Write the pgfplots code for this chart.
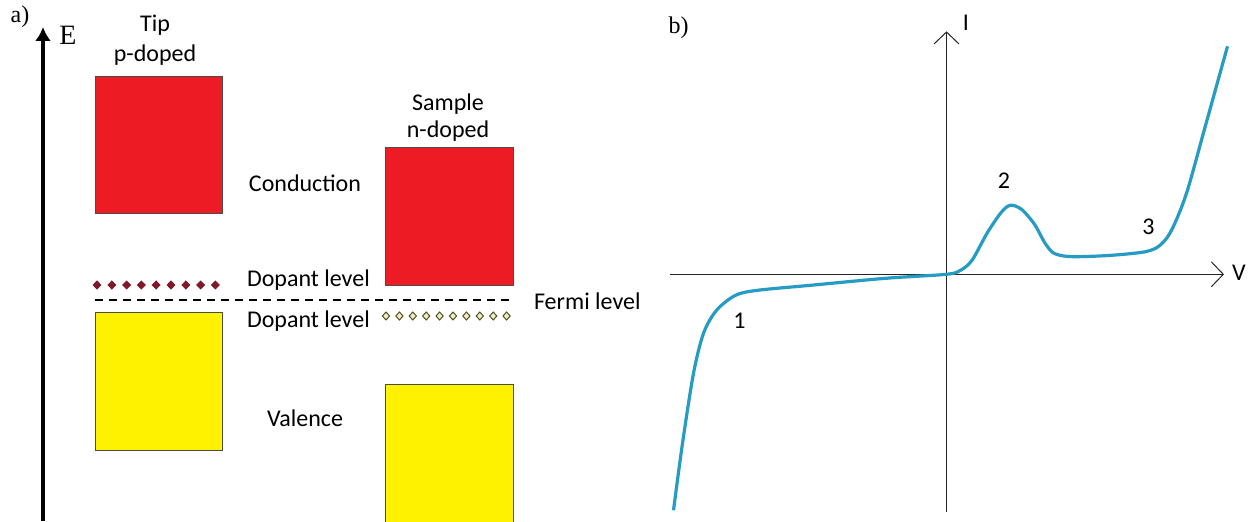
\documentclass[border=0pt]{standalone}
\usepackage{pgfplots}
\pgfplotsset{compat=1.18}
\usetikzlibrary{arrows.meta}
\usepackage{fontspec}
\setmainfont{Carlito}
\newfontfamily\serifE{Liberation Serif}
\definecolor{tipred}{RGB}{237,28,36}
\definecolor{bandyellow}{RGB}{255,242,0}
\definecolor{dopred}{RGB}{125,25,40}
\definecolor{dopedge}{RGB}{80,80,40}
\definecolor{dopfill}{RGB}{240,238,190}
\definecolor{curve}{RGB}{38,155,195}
\begin{document}
\begin{tikzpicture}
% ---------------- panel a) ----------------
\begin{axis}[
  at={(0pt,0pt)}, anchor=origin,
  x=0.5pt, y=0.5pt,
  xmin=0, xmax=650, ymin=0, ymax=521,
  hide axis, clip=false,
  every node/.style={inner sep=0pt},
]
% energy axis
\addplot[black, line width=2pt, -{Latex[length=7pt,width=8pt]}] coordinates {(43,0) (43,494)};
% bands
\addplot[fill=tipred, draw=black!70, line width=0.5pt] coordinates {(95,308) (222,308) (222,444) (95,444)} -- cycle;
\addplot[fill=bandyellow, draw=black!70, line width=0.5pt] coordinates {(95,71) (222,71) (222,209) (95,209)} -- cycle;
\addplot[fill=tipred, draw=black!70, line width=0.5pt] coordinates {(385,236) (513,236) (513,373) (385,373)} -- cycle;
\addplot[fill=bandyellow, draw=black!70, line width=0.5pt] coordinates {(385,-2) (513,-2) (513,137) (385,137)} -- cycle;
% Fermi level
\addplot[black, line width=0.6pt, dash pattern=on 4pt off 3pt] coordinates {(95,221) (513,221)};
% dopant levels
\addplot[only marks, mark=diamond*, mark size=2pt, dopred, mark options={fill=dopred, draw=dopred, xscale=1.3}]
  coordinates {(97,236) (111.8,236) (126.6,236) (141.4,236) (156.2,236) (171,236) (185.8,236) (200.6,236) (215.4,236)};
\addplot[only marks, mark=diamond*, mark size=2pt, mark options={fill=dopfill, draw=dopedge, line width=0.5pt, xscale=1.2}]
  coordinates {(386,205) (399.4,205) (412.8,205) (426.2,205) (439.6,205) (453,205) (466.4,205) (479.8,205) (493.2,205) (506.6,205)};
% texts
\node[font=\serifE\fontsize{12}{12}\selectfont] at (axis cs:20,504) {a)};
\node[font=\serifE\fontsize{14}{14}\selectfont] at (axis cs:68,486) {E};
\node[font=\fontsize{12}{12}\selectfont] at (axis cs:155,496) {Tip};
\node[font=\fontsize{12}{12}\selectfont] at (axis cs:155,466) {p-doped};
\node[font=\fontsize{12}{12}\selectfont] at (axis cs:448,417) {Sample};
\node[font=\fontsize{12}{12}\selectfont] at (axis cs:448,390) {n-doped};
\node[font=\fontsize{12}{12}\selectfont] at (axis cs:305,338) {Conduction};
\node[font=\fontsize{12}{12}\selectfont] at (axis cs:305,103) {Valence};
\node[font=\fontsize{12}{12}\selectfont, anchor=west] at (axis cs:240,241) {Dopant level};
\node[font=\fontsize{12}{12}\selectfont, anchor=west] at (axis cs:240,200) {Dopant level};
\node[font=\fontsize{12}{12}\selectfont, anchor=west] at (axis cs:527,220) {Fermi level};
\end{axis}
% ---------------- panel b) ----------------
\begin{axis}[
  at={(473.25pt,123.35pt)}, anchor=origin,
  x=0.5pt, y=0.5pt,
  xmin=-276.5, xmax=277.5, ymin=-238, ymax=243,
  axis lines=middle,
  axis line style={black!85, line width=0.5pt, -{Straight Barb[length=6pt,width=12.5pt]}},
  xtick=\empty, ytick=\empty,
  clip=false,
  every node/.style={inner sep=0pt},
]
\addplot[curve, line width=1.6pt, smooth] coordinates {
(-273,-236) (-264,-169) (-253,-99) (-243,-59) (-230,-36) (-211,-21) (-189,-16)
(-136,-11) (-61,-4) (0,0) (14,4) (25.5,14) (40.5,41) (54,61) (63.5,69) (75,65)
(88,50) (98,32) (106,22) (116,18.5) (131,17.6) (165,19) (199,22.6) (213.5,29) (225,44)
(240,81) (258.5,147) (281,228)};
\node[font=\fontsize{12}{12}\selectfont] at (axis cs:292.5,1) {V};
\node[font=\fontsize{12}{12}\selectfont] at (axis cs:19.5,251) {I};
\node[font=\fontsize{12}{12}\selectfont] at (axis cs:-207,-46) {1};
\node[font=\fontsize{12}{12}\selectfont] at (axis cs:57.5,94) {2};
\node[font=\fontsize{12}{12}\selectfont] at (axis cs:202,48) {3};
\node[font=\serifE\fontsize{12}{12}\selectfont] at (axis cs:-268,247) {b)};
\end{axis}
\pgfresetboundingbox
\path[use as bounding box] (0pt,0pt) rectangle (625pt,260.5pt);
\end{tikzpicture}
\end{document}
